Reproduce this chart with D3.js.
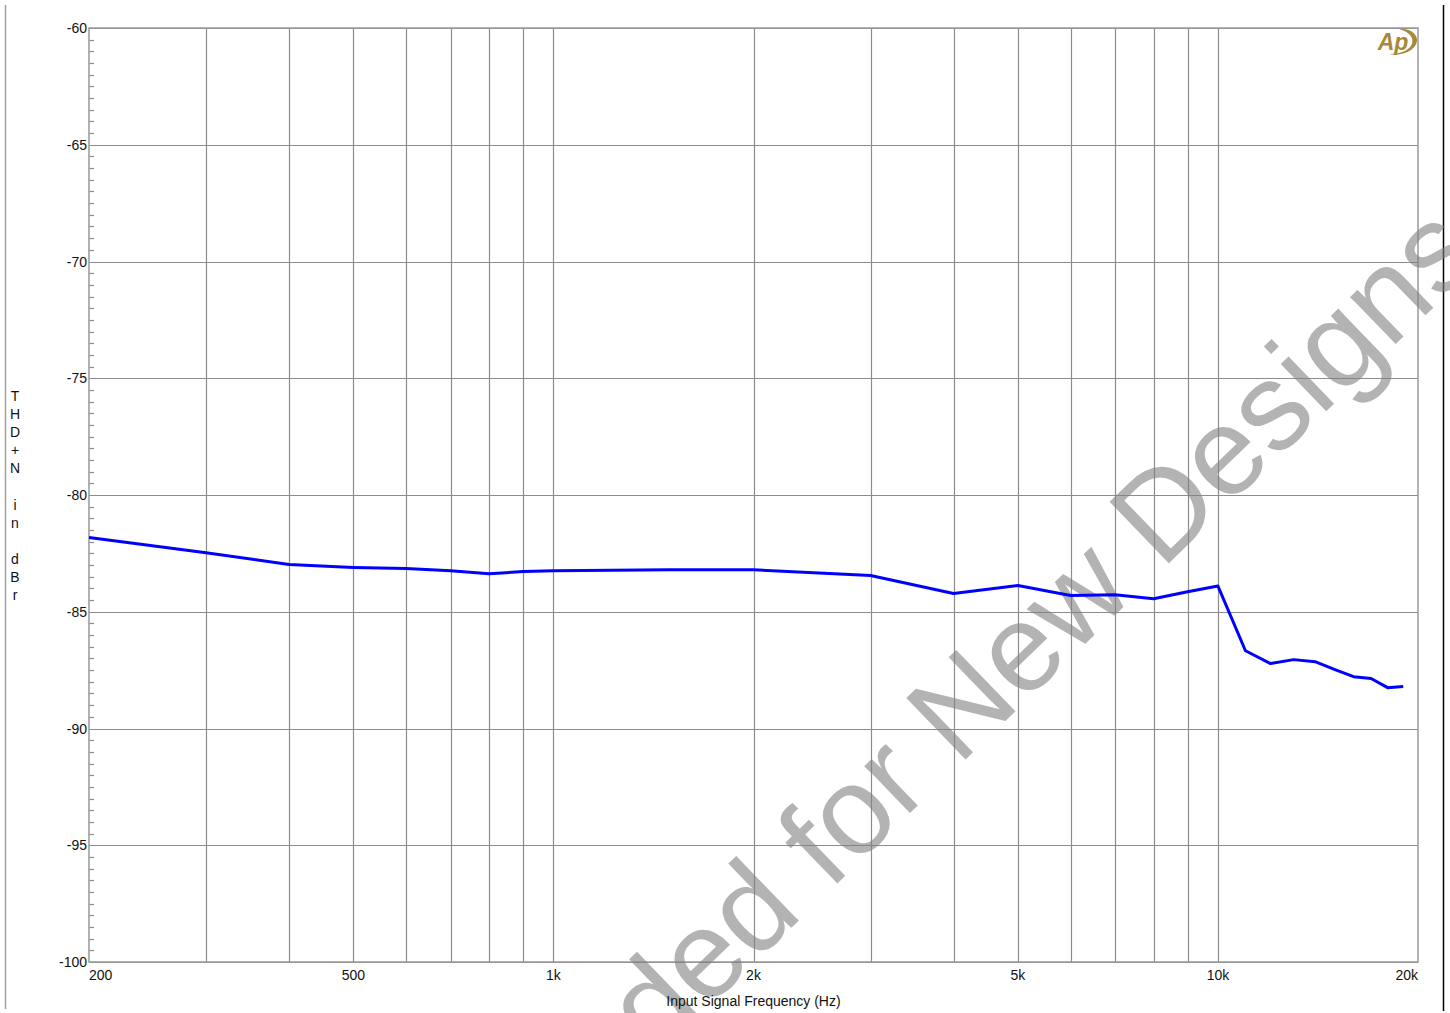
<!DOCTYPE html>
<html>
<head>
<meta charset="utf-8">
<script src="https://cdn.jsdelivr.net/npm/d3@7"></script>
<style>
  body { margin: 0; background: #fff; }
  svg { display: block; font-family: "Liberation Sans", Arial, sans-serif; }
</style>
</head>
<body>
<div id="chart"></div>
<script>
// THD+N vs input frequency
const freqs = [200, 300, 400, 500, 600, 700, 800, 900, 1000, 1500, 2000, 3000, 4000, 5000,
               6000, 7000, 8000, 9000, 10000, 11000, 12000, 13000, 14000, 15000, 16000,
               17000, 18000, 19000];
const thdn  = [-81.82, -82.47, -82.98, -83.10, -83.15, -83.24, -83.37, -83.28, -83.24, -83.20,
               -83.20, -83.45, -84.22, -83.88, -84.30, -84.27, -84.44, -84.14, -83.90, -86.67,
               -87.22, -87.05, -87.14, -87.48, -87.78, -87.86, -88.25, -88.20];

const xGrid   = [300, 400, 500, 600, 700, 800, 900, 1000, 2000, 3000, 4000, 5000, 6000, 7000, 8000, 9000, 10000];
const xLabels = [[200, '200'], [500, '500'], [1000, '1k'], [2000, '2k'], [5000, '5k'], [10000, '10k'], [20000, '20k']];
const yMajor  = [-60, -65, -70, -75, -80, -85, -90, -95, -100];
const yTitle  = ['T', 'H', 'D', '+', 'N', '', 'i', 'n', '', 'd', 'B', 'r'];

const width = 1450, height = 1013;
const margin = { left: 89, right: 32, top: 28, bottom: 51 };

const svg = d3.select('#chart').append('svg')
  .attr('width', width)
  .attr('height', height);

const x = d3.scaleLog()
  .domain([200, 20000])
  .range([margin.left, width - margin.right]);

const y = d3.scaleLinear()
  .domain([-100, -60])
  .range([height - margin.bottom, margin.top]);

// page frame lines
svg.append('line')
  .attr('x1', 5.5).attr('x2', 5.5).attr('y1', 5).attr('y2', 1009)
  .attr('stroke', '#a0a0a0').attr('stroke-width', 1.5);
svg.append('line')
  .attr('x1', 1443.5).attr('x2', 1443.5).attr('y1', 5).attr('y2', 1011)
  .attr('stroke', '#000').attr('stroke-width', 1.5);

// grid
const grid = svg.append('g').attr('stroke', '#8c8c8c').attr('stroke-width', 1.2);
grid.selectAll('line.v')
  .data(xGrid)
  .join('line')
    .attr('class', 'v')
    .attr('x1', d => Math.round(x(d)) + 0.5).attr('x2', d => Math.round(x(d)) + 0.5)
    .attr('y1', y(-60)).attr('y2', y(-100));
grid.selectAll('line.h')
  .data(yMajor)
  .join('line')
    .attr('class', 'h')
    .attr('x1', x(200)).attr('x2', x(20000))
    .attr('y1', d => Math.round(y(d)) + 0.5).attr('y2', d => Math.round(y(d)) + 0.5);

// minor ticks on the left axis, every 0.5 dB
const minor = d3.range(-100, -60, 0.5).filter(v => v % 5 !== 0);
svg.append('g').attr('stroke', '#8c8c8c').attr('stroke-width', 1.2)
  .selectAll('line')
  .data(minor)
  .join('line')
    .attr('x1', x(200)).attr('x2', x(200) + 5)
    .attr('y1', d => Math.round(y(d)) + 0.5).attr('y2', d => Math.round(y(d)) + 0.5);

// plot border
svg.append('rect')
  .attr('x', x(200)).attr('y', y(-60))
  .attr('width', x(20000) - x(200)).attr('height', y(-100) - y(-60))
  .attr('fill', 'none').attr('stroke', '#999').attr('stroke-width', 1.5);

// watermark
svg.append('text')
  .attr('transform', 'translate(760,958) rotate(-44)')
  .attr('text-anchor', 'middle')
  .attr('font-size', 124)
  .attr('fill', '#808080')
  .attr('fill-opacity', 0.6)
  .text('Not Recommended for New Designs');

// data line
svg.append('path')
  .datum(freqs.map((f, i) => [f, thdn[i]]))
  .attr('fill', 'none')
  .attr('stroke', '#0000ff')
  .attr('stroke-width', 3)
  .attr('stroke-linejoin', 'round')
  .attr('d', d3.line().x(d => x(d[0])).y(d => y(d[1])));

// y tick labels
svg.append('g')
  .selectAll('text')
  .data(yMajor)
  .join('text')
    .attr('x', x(200) - 2)
    .attr('y', d => y(d) + 5)
    .attr('text-anchor', 'end')
    .attr('font-size', 14)
    .attr('fill', '#111')
    .text(d => d);

// x tick labels
svg.append('g')
  .selectAll('text')
  .data(xLabels)
  .join('text')
    .attr('x', d => x(d[0]))
    .attr('y', 980)
    .attr('text-anchor', d => d[0] === 200 ? 'start' : d[0] === 20000 ? 'end' : 'middle')
    .attr('font-size', 14)
    .attr('fill', '#111')
    .text(d => d[1]);

// axis titles
svg.append('text')
  .attr('x', (x(200) + x(20000)) / 2)
  .attr('y', 1006)
  .attr('text-anchor', 'middle')
  .attr('font-size', 14)
  .attr('fill', '#111')
  .text('Input Signal Frequency (Hz)');

svg.append('g')
  .selectAll('text')
  .data(yTitle)
  .join('text')
    .attr('x', 15)
    .attr('y', (d, i) => 401 + i * 18.1)
    .attr('text-anchor', 'middle')
    .attr('font-size', 14)
    .attr('fill', '#111')
    .text(d => d);

// AP logo
const logo = svg.append('g').attr('transform', 'translate(1395,42)');
logo.append('path')
  .attr('d', 'M -6,12 C 10,15 23,6 22,-3 C 21,-10 12,-14 4,-13 C 15,-10 19,-4 17,2 C 14,9 4,12 -6,12 Z')
  .attr('fill', '#a8883a');
logo.append('text')
  .attr('x', -2).attr('y', 8)
  .attr('text-anchor', 'middle')
  .attr('font-size', 23)
  .attr('font-style', 'italic')
  .attr('font-weight', 'bold')
  .attr('fill', '#a8883a')
  .text('Ap');
</script>
</body>
</html>
